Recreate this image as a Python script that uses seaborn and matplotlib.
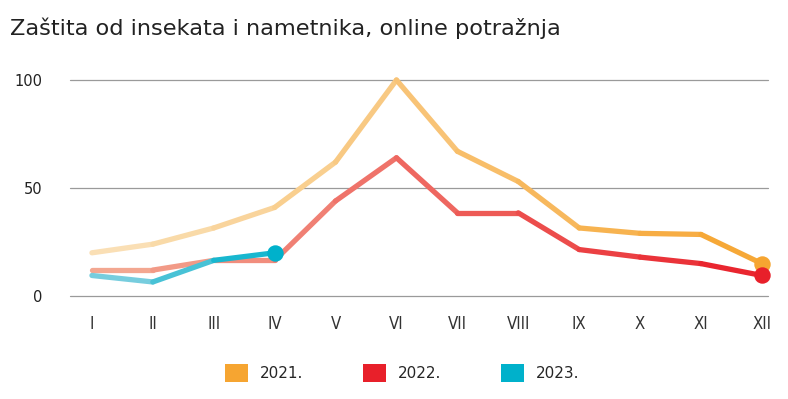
import seaborn as sns
import pandas as pd
import numpy as np
import matplotlib.pyplot as plt
from matplotlib.patches import Patch
from matplotlib.colors import to_rgb

# data
months = ['I', 'II', 'III', 'IV', 'V', 'VI', 'VII', 'VIII', 'IX', 'X', 'XI', 'XII']
years = ['2021.', '2022.', '2023.']
v2021 = [20, 24, 31.5, 41, 62, 100, 67, 53, 31.5, 29, 28.5, 15]
v2022 = [12, 12, 16.5, 16.5, 44, 64, 38.5, 38.5, 21.5, 18, 15, 9.5]
v2023 = [9.5, 6.5, 16.5, 20]
colours = ['#f6a531', '#e8202a', '#00b1cb']
# light colour each line fades from
start_colours = ['#fae2bb', '#f4ad96', '#8fd3e2']

sns.set_style('white')
plt.rcParams['font.family'] = ['DejaVu Sans']

fig = plt.figure(figsize=(7.88, 3.99), dpi=100)
ax = fig.add_axes([70/788, 103/399, 698/788, 216/399])


def blend(c0, c1, t):
    a = np.array(to_rgb(c0))
    b = np.array(to_rgb(c1))
    return tuple(a + (b - a) * t)


series = [v2021, v2022, v2023]
for vals, col, col0 in zip(series, colours, start_colours):
    n = len(vals)
    xs = np.arange(1, n + 1)
    for i in range(n - 1):
        t = (i + 0.5) / (n - 1)
        sns.lineplot(x=xs[i:i+2], y=vals[i:i+2], color=blend(col0, col, t), lw=3.8,
                     ax=ax, clip_on=False, solid_capstyle='round', zorder=3)
    sns.scatterplot(x=[xs[-1]], y=[vals[-1]], color=col, s=140, linewidth=0,
                    ax=ax, clip_on=False, zorder=4)

ax.set_xlim(0.64, 12.1)
ax.set_ylim(0, 100)
ax.set_yticks([0, 50, 100])
ax.set_xticks(range(1, 13))
ax.set_xticklabels(months, fontstretch='condensed', fontweight='light',
                   fontsize=12, color='#333333')
ax.tick_params(axis='y', labelsize=10.5, labelcolor='#222222', pad=20, length=0)
ax.tick_params(axis='x', pad=14, length=0)
ax.grid(axis='y', color='#9a9a9a', lw=0.9)
ax.grid(axis='x', visible=False)
for gl in ax.get_ygridlines():
    gl.set_clip_on(False)
for s in ax.spines.values():
    s.set_visible(False)
ax.set_xlabel('')
ax.set_ylabel('')

fig.text(10/788, 1 - 35/399, 'Zaštita od insekata i nametnika, online potražnja',
         fontsize=16.2, color='#222222', va='baseline')

handles = [Patch(facecolor=c, edgecolor='none') for c in colours]
fig.legend(handles, years, loc='center', bbox_to_anchor=(402/788, 26/399), ncol=3,
           frameon=False, fontsize=11, handlelength=1.5, handleheight=1.5,
           handletextpad=0.8, columnspacing=3.9)

fig.savefig('out.png', dpi=100)
